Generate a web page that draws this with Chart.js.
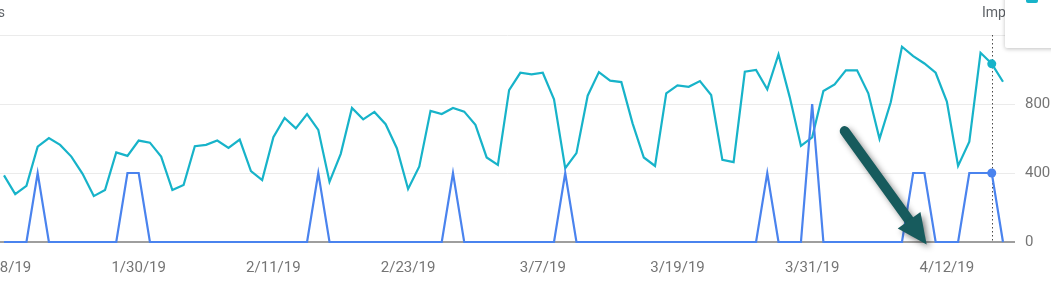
<!DOCTYPE html>
<html>
<head>
<meta charset="utf-8">
<script src="https://cdn.jsdelivr.net/npm/chart.js@4/dist/chart.umd.min.js"></script>
<style>
  html, body { margin: 0; padding: 0; background: #fff; overflow: hidden; }
  body { width: 1051px; height: 287px; position: relative; font-family: Roboto, sans-serif; }
  #wrap { position: absolute; left: -50px; top: 0; width: 1101px; height: 287px; }
  .axis-title { position: absolute; top: 4px; font-size: 14px; color: #5f6368; white-space: nowrap; }
  #clicksTitle { left: -60px; width: 65px; text-align: right; }
  #imprTitle { left: 982px; }
  #card { position: absolute; left: 1005px; top: -12px; width: 70px; height: 60px; background: #fff;
          box-shadow: 0 1px 4px rgba(0,0,0,0.25); border-radius: 2px; }
  #card .swatch { position: absolute; left: 21px; top: 3px; width: 12px; height: 12px; border-radius: 2px; background: #17b3c9; }
</style>
</head>
<body>
<div id="wrap"><canvas id="gsc"></canvas></div>
<div class="axis-title" id="clicksTitle">Clicks</div>
<div class="axis-title" id="imprTitle">Impressions</div>
<div id="card"><div class="swatch"></div></div>
<script>
// daily values 1/18/19 .. 4/17/19 (index = days since 1/18/19)
const clicks = [0,0,0,1,0,0,0,0,0,0, 0,1,1,0,0,0,0,0,0,0,
                0,0,0,0,0,0,0,0,1,0, 0,0,0,0,0,0,0,0,0,0,
                1,0,0,0,0,0,0,0,0,0, 1,0,0,0,0,0,0,0,0,0,
                0,0,0,0,0,0,0,0,1,0, 0,0,2,0,0,0,0,0,0,0,
                0,1,1,0,0,0,1,1,1,0];
const impressions = [386,278,326,553,602,563,495,395,266,301,
                     519,499,588,576,495,301,330,555,563,588,
                     546,594,411,359,607,719,659,742,650,349,
                     511,777,711,754,683,544,307,438,760,742,
                     777,756,679,490,447,881,981,972,981,827,
                     428,515,848,985,935,927,688,490,441,862,
                     908,900,933,852,476,463,987,997,885,1087,
                     840,557,607,875,914,995,995,862,598,810,
                     1132,1078,1035,981,814,441,582,1097,1033,929];
const tickDays = [0, 12, 24, 36, 48, 60, 72, 84];
const tickLabels = ['1/18/19', '1/30/19', '2/11/19', '2/23/19', '3/7/19', '3/19/19', '3/31/19', '4/12/19'];
const hoverDay = 88;                       // 4/16/19, the hovered date
const arrowFrom = { x: 74.9, y: 643 };     // annotation arrow, in chart values
const arrowTo = { x: 82.2, y: -15 };

const radiusAt = i => (i === hoverDay ? 4.5 : 0);

// dotted hover line behind the series
const hoverLine = {
  id: 'hoverLine',
  beforeDatasetsDraw(chart) {
    const { ctx, chartArea, scales } = chart;
    const x = Math.round(scales.x.getPixelForValue(hoverDay)) + 0.5;
    ctx.save();
    ctx.strokeStyle = '#4a4a4a';
    ctx.lineWidth = 1;
    ctx.setLineDash([1.5, 2.5]);
    ctx.beginPath();
    ctx.moveTo(x, chartArea.top);
    ctx.lineTo(x, chartArea.bottom);
    ctx.stroke();
    ctx.restore();
  }
};

// the dark arrow painted over the screenshot
const arrow = {
  id: 'arrow',
  afterDatasetsDraw(chart) {
    const { ctx, scales } = chart;
    const x1 = scales.x.getPixelForValue(arrowFrom.x), y1 = scales.y1.getPixelForValue(arrowFrom.y);
    const x2 = scales.x.getPixelForValue(arrowTo.x), y2 = scales.y1.getPixelForValue(arrowTo.y);
    const len = Math.hypot(x2 - x1, y2 - y1);
    const ux = (x2 - x1) / len, uy = (y2 - y1) / len;
    const headLen = 30, headHalf = 14;
    const bx = x2 - ux * headLen, by = y2 - uy * headLen;
    ctx.save();
    ctx.shadowColor = 'rgba(0,0,0,0.45)';
    ctx.shadowBlur = 6;
    ctx.shadowOffsetX = 3;
    ctx.shadowOffsetY = 3;
    ctx.strokeStyle = '#175b5d';
    ctx.fillStyle = '#175b5d';
    ctx.lineWidth = 10;
    ctx.lineCap = 'round';
    ctx.beginPath();
    ctx.moveTo(x1, y1);
    ctx.lineTo(bx + ux * 8, by + uy * 8);
    ctx.stroke();
    ctx.beginPath();
    ctx.moveTo(x2, y2);
    ctx.lineTo(bx - uy * headHalf, by + ux * headHalf);
    ctx.lineTo(bx + uy * headHalf, by - ux * headHalf);
    ctx.closePath();
    ctx.fill();
    ctx.restore();
  }
};

new Chart(document.getElementById('gsc'), {
  type: 'line',
  data: {
    datasets: [{
      label: 'Clicks',
      data: clicks.map((v, i) => ({ x: i, y: v })),
      yAxisID: 'y',
      borderColor: '#4a83ee',
      backgroundColor: '#4a83ee',
      borderWidth: 2.2,
      tension: 0,
      clip: 6,
      pointRadius: clicks.map((v, i) => radiusAt(i)),
      pointBorderWidth: 0
    }, {
      label: 'Impressions',
      data: impressions.map((v, i) => ({ x: i, y: v })),
      yAxisID: 'y1',
      borderColor: '#17b3c9',
      backgroundColor: '#17b3c9',
      borderWidth: 2.2,
      tension: 0,
      clip: 6,
      pointRadius: impressions.map((v, i) => radiusAt(i)),
      pointBorderWidth: 0
    }]
  },
  options: {
    responsive: true,
    maintainAspectRatio: false,
    animation: false,
    events: [],
    layout: { padding: { left: 50, top: 35, right: 0, bottom: 0 } },
    plugins: { legend: { display: false }, tooltip: { enabled: false } },
    scales: {
      x: {
        type: 'linear',
        min: -0.356,
        max: 90.07,
        grid: { display: false, drawTicks: false },
        border: { display: false },
        afterBuildTicks: scale => { scale.ticks = tickDays.map(v => ({ value: v })); },
        afterFit: scale => { scale.height = 45; },
        ticks: {
          autoSkip: false,
          maxRotation: 0,
          padding: 17,
          color: '#757575',
          font: { family: 'Roboto', size: 15 },
          callback: value => tickLabels[tickDays.indexOf(value)]
        }
      },
      y: {
        display: false,
        min: 0,
        max: 3
      },
      y1: {
        position: 'right',
        min: 0,
        max: 1200,
        grid: {
          drawTicks: false,
          color: c => (c.tick.value === 0 ? '#9e9e9e' : '#ebebeb'),
          lineWidth: c => (c.tick.value === 0 ? 2 : 1)
        },
        border: { display: false },
        afterFit: scale => { scale.width = 36; },
        ticks: {
          stepSize: 400,
          padding: 10,
          color: '#757575',
          font: { family: 'Roboto', size: 15 }
        }
      }
    }
  },
  plugins: [hoverLine, arrow]
});
</script>
</body>
</html>
